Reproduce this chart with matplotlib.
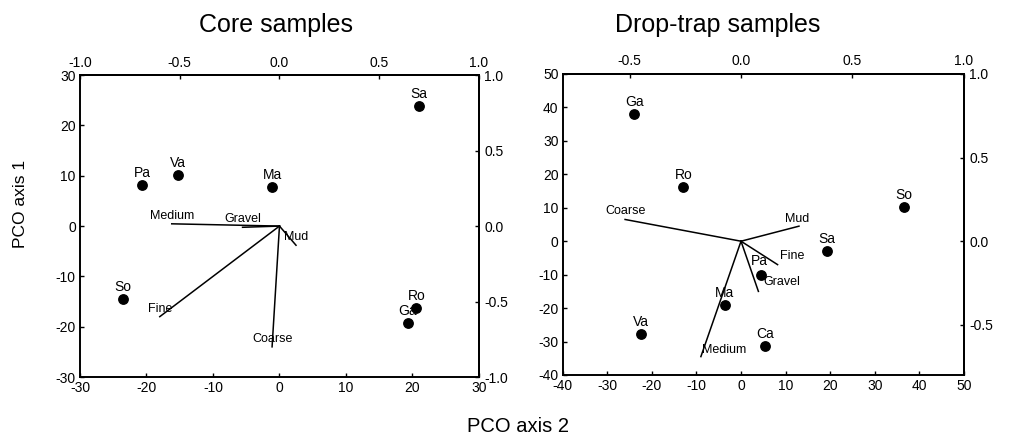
"""PCO biplots of core and drop-trap samples with sediment vectors."""

import matplotlib
matplotlib.use("Agg")
import matplotlib.pyplot as plt

plt.rcParams["font.family"] = ["Liberation Sans", "DejaVu Sans"]
plt.rcParams["axes.unicode_minus"] = False

# Core samples: site scores (PCO axis 2 -> x, PCO axis 1 -> y)
core_sites = ["Pa", "Va", "Ma", "Sa", "Ro", "Ga", "So"]
core_pco2 = [-20.6, -15.3, -1.1, 21.0, 20.6, 19.3, -23.6]
core_pco1 = [8.1, 10.1, 7.7, 23.8, -16.3, -19.2, -14.4]

# Core samples: sediment vectors (correlation scale, -1..1)
core_vars = ["Medium", "Gravel", "Mud", "Fine", "Coarse"]
core_vec_x = [-0.54, -0.185, 0.083, -0.60, -0.037]
core_vec_y = [0.015, -0.008, -0.127, -0.60, -0.80]

# Drop-trap samples: site scores
drop_sites = ["Ga", "Ro", "Pa", "Ma", "Va", "Ca", "Sa", "So"]
drop_pco2 = [-23.9, -12.9, 4.5, -3.7, -22.4, 5.4, 19.2, 36.6]
drop_pco1 = [38.0, 16.3, -10.1, -19.1, -27.8, -31.2, -2.8, 10.3]

# Drop-trap samples: sediment vectors (correlation scale)
drop_vars = ["Coarse", "Mud", "Fine", "Gravel", "Medium"]
drop_vec_x = [-0.52, 0.26, 0.164, 0.078, -0.18]
drop_vec_y = [0.13, 0.09, -0.14, -0.30, -0.69]

CORE_TICKS = [-30, -20, -10, 0, 10, 20, 30]
DROP_XTICKS = [-40, -30, -20, -10, 0, 10, 20, 30, 40, 50]
DROP_YTICKS = [-40, -30, -20, -10, 0, 10, 20, 30, 40, 50]
CORR_TICKS = [-1.0, -0.5, 0.0, 0.5, 1.0]

# label offsets in pixels for the vector names of the drop-trap panel
DROP_VEC_OFFSETS = {
    "Coarse": (0, 8),
    "Mud": (-2, 7),
    "Fine": (15, 9),
    "Gravel": (23, 9),
    "Medium": (23, 7),
}


def _style_axes(ax, scale):
    for sp in ax.spines.values():
        sp.set_linewidth(1.4)
    ax.tick_params(direction="in", length=3, width=1, labelsize=10, pad=3)
    top = ax.secondary_xaxis("top", functions=(lambda v: v / scale, lambda v: v * scale))
    right = ax.secondary_yaxis("right", functions=(lambda v: v / scale, lambda v: v * scale))
    for sec in (top, right):
        sec.set_ticks(CORR_TICKS, labels=[f"{t:.1f}" for t in CORR_TICKS])
        sec.tick_params(direction="in", length=3, width=1, labelsize=10, pad=4)
    top.spines["top"].set_linewidth(1.4)
    right.spines["right"].set_linewidth(1.4)


def _draw_biplot(ax, sites, xs, ys, names, vx, vy, scale, offsets):
    ax.scatter(xs, ys, s=46, color="black", zorder=3)
    for name, x, y in zip(sites, xs, ys):
        dx, dy = (-2, 14) if (name == "Pa" and scale == 50) else (0, 12)
        ax.annotate(name, (x, y), xytext=(dx, dy), textcoords="offset pixels",
                    ha="center", va="center", fontsize=10)
    for name, x, y in zip(names, vx, vy):
        ax.plot([0, x * scale], [0, y * scale], color="black", lw=1.1)
        ax.annotate(name, (x * scale, y * scale), xytext=offsets.get(name, (0, 8)),
                    textcoords="offset pixels", ha="center", va="center",
                    fontsize=9)


fig = plt.figure(figsize=(10.1, 4.42), dpi=100)

ax1 = fig.add_axes([0.0792, 0.147, 0.395, 0.683])
_draw_biplot(ax1, core_sites, core_pco2, core_pco1, core_vars,
             core_vec_x, core_vec_y, 30, {})
ax1.set_xlim(-30, 30)
ax1.set_ylim(-30, 30)
ax1.set_xticks(CORE_TICKS)
ax1.set_yticks(CORE_TICKS)
_style_axes(ax1, 30)

ax2 = fig.add_axes([0.5571, 0.1516, 0.3973, 0.681])
_draw_biplot(ax2, drop_sites, drop_pco2, drop_pco1, drop_vars,
             drop_vec_x, drop_vec_y, 50, DROP_VEC_OFFSETS)
ax2.set_xlim(-40, 50)
ax2.set_ylim(-40, 50)
ax2.set_xticks(DROP_XTICKS)
ax2.set_yticks(DROP_YTICKS)
_style_axes(ax2, 50)

fig.text(276 / 1010, 1 - 25 / 442, "Core samples", ha="center", va="center", fontsize=18)
fig.text(718 / 1010, 1 - 25 / 442, "Drop-trap samples", ha="center", va="center", fontsize=18)
fig.text(21 / 1010, 1 - 204 / 442, "PCO axis 1", ha="center", va="center",
         rotation=90, fontsize=12.5)
fig.text(518 / 1010, 1 - 427 / 442, "PCO axis 2", ha="center", va="center", fontsize=14.5)

fig.savefig("out.png", dpi=100)
